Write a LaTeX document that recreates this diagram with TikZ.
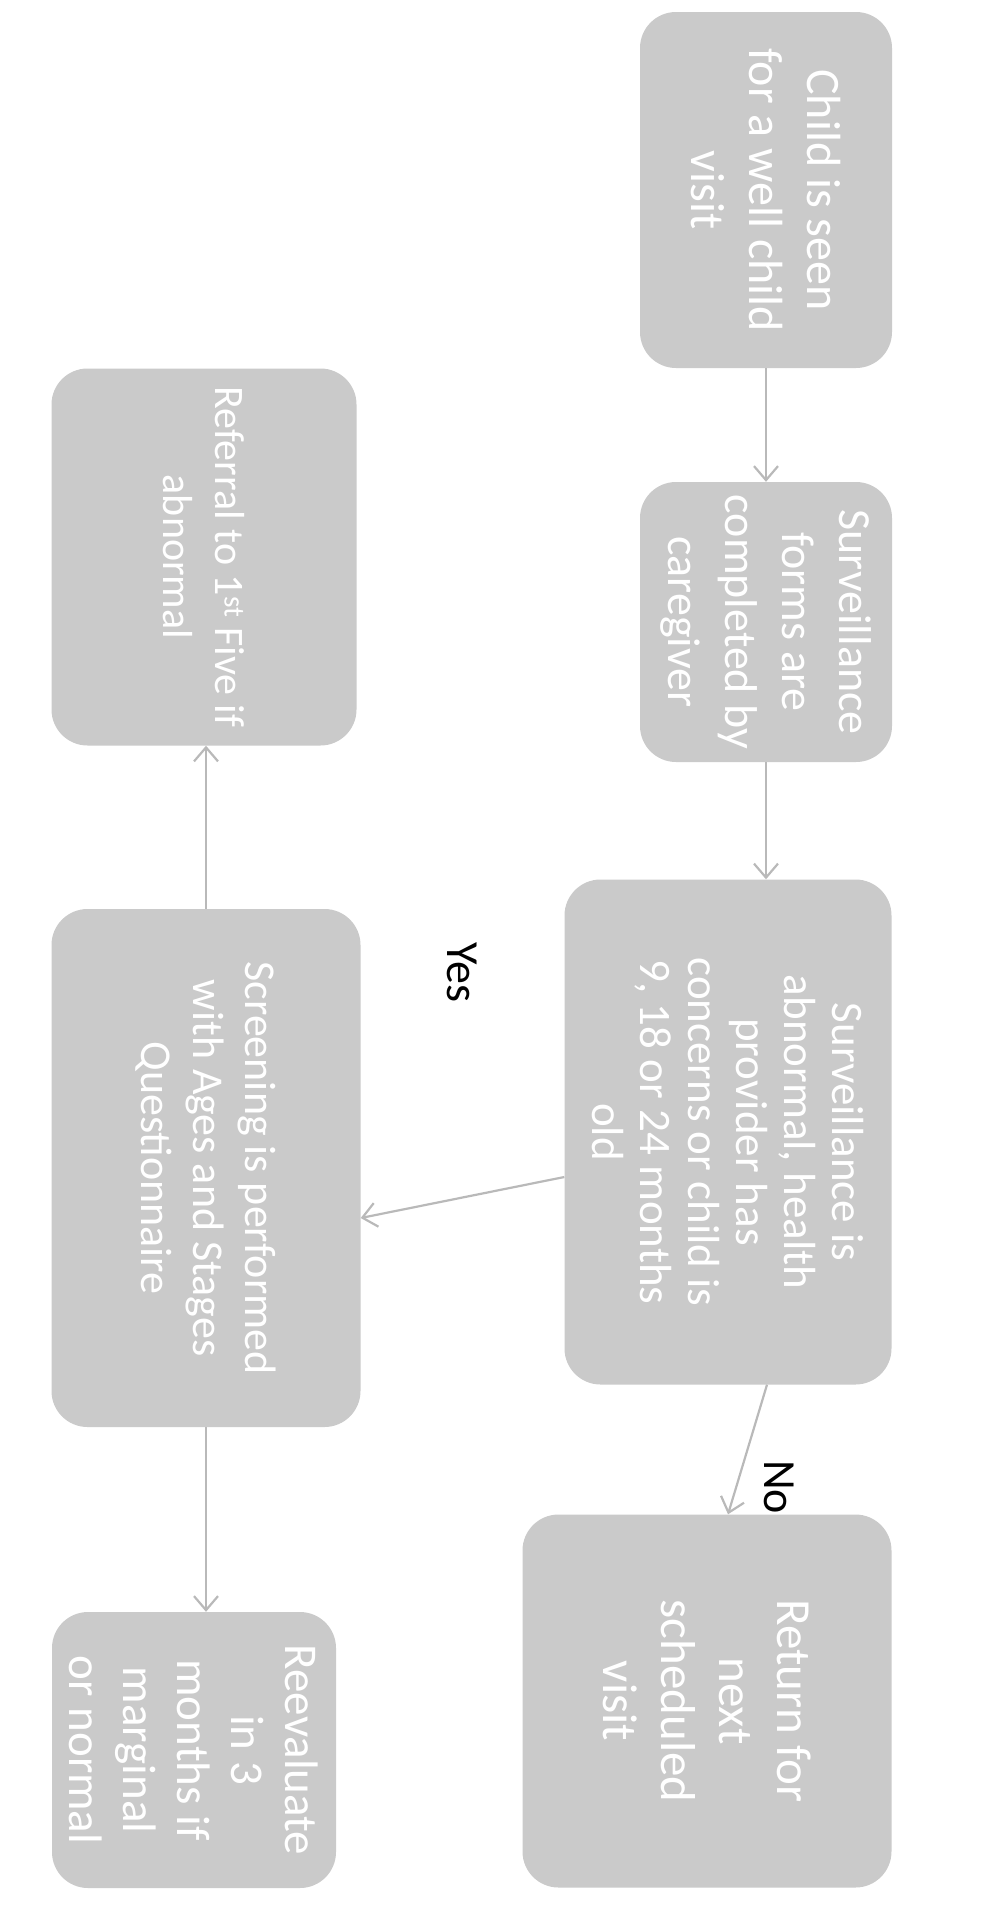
\documentclass[tikz,border=0pt]{standalone}
\usepackage{fontspec}
\setmainfont{Carlito}
\usetikzlibrary{arrows.meta,calc}
\definecolor{boxgrey}{RGB}{202,202,202}
\definecolor{linegrey}{RGB}{185,185,185}

\begin{document}
\begin{tikzpicture}[
    x=1pt, y=-1pt,
    box/.style={rounded corners=36pt, fill=boxgrey, text=white, rotate=-90, align=center, inner sep=4pt},
    arrow/.style={-{Straight Barb[length=14pt,width=24pt]}, line width=2.2pt, draw=linegrey},
    tag/.style={rotate=-90, font=\fontsize{46}{55}\selectfont}
]
\useasboundingbox (0,0) rectangle (982,1909);

% right column
\node[box, minimum width=356pt, minimum height=252pt, font=\fontsize{48}{58}\selectfont] (child) at (766,190) {Child is seen\\for a well child\\visit};
\node[box, minimum width=280pt, minimum height=252pt, font=\fontsize{46}{57}\selectfont] (forms) at (766,622) {Surveillance\\forms are\\completed by\\caregiver};
\node[box, minimum width=505pt, minimum height=327pt, font=\fontsize{45}{48}\selectfont] (abnormal) at (728,1132) {Surveillance is\\abnormal, health\\provider has\\concerns or child is\\9, 18 or 24 months\\old};
\node[box, minimum width=373pt, minimum height=369pt, font=\fontsize{49}{58}\selectfont] (return) at (707,1701) {Return for\\next\\scheduled\\visit};

% left column
\node[box, minimum width=377pt, minimum height=305pt, font=\fontsize{42}{52}\selectfont] (referral) at (204,557) {Referral to 1\textsuperscript{st} Five if\\abnormal};
\node[box, minimum width=518pt, minimum height=309pt, font=\fontsize{44}{52}\selectfont] (screening) at (206,1168) {Screening is performed\\with Ages and Stages\\Questionnaire};
\node[box, minimum width=276pt, minimum height=284pt, font=\fontsize{47}{54}\selectfont] (reeval) at (194,1750) {Reevaluate\\in 3\\months if\\marginal\\or normal};

\node[tag] (yes) at (462,972) {Yes};
\node[tag] (no) at (779,1487) {No};

\draw[arrow] (child.east) -- (forms.west);
\draw[arrow] (forms.east) -- (forms.east |- abnormal.west);
\draw[arrow] ($(abnormal.south)+(0,45)$) -- ($(screening.north)+(0,50)$);
\draw[arrow] ($(abnormal.east)+(39,0)$) -- ($(return.west)+(21,0)$);
\draw[arrow] (screening.west) -- (screening.west |- referral.east);
\draw[arrow] (screening.east) -- (screening.east |- reeval.west);

\end{tikzpicture}
\end{document}
